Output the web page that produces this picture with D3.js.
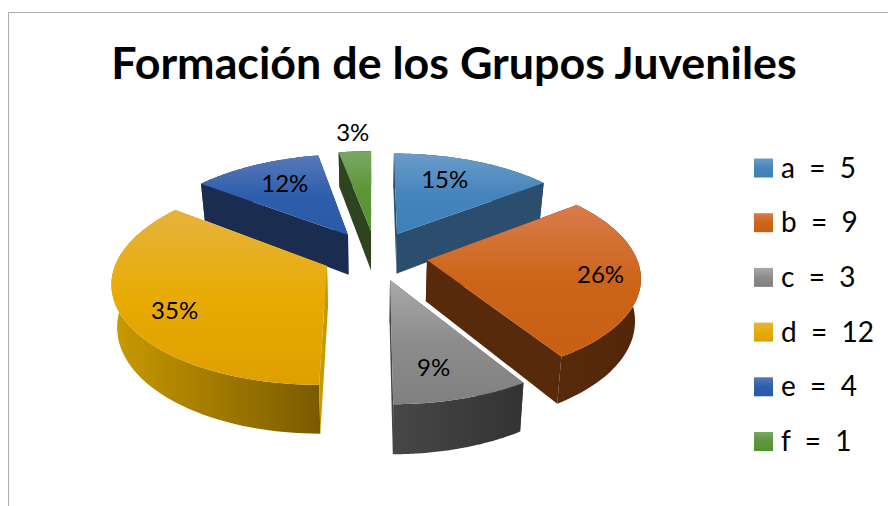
<!DOCTYPE html>
<html><head><meta charset="utf-8">
<script src="https://cdn.jsdelivr.net/npm/d3@7/dist/d3.min.js"></script>
<style>html,body{margin:0;padding:0;background:#fff}svg{display:block}text{font-family:Lato,"Open Sans",sans-serif;fill:#000;white-space:pre}</style>
</head><body><svg id="c" width="888" height="506"></svg>
<script>
const title = "Formación de los Grupos Juveniles";
const categories = ["a","b","c","d","e","f"];
const values = [5,9,3,12,4,1];
const legendLabels = ["a  =  5","b  =  9","c  =  3","d  =  12","e  =  4","f  =  1"];

// layout and style, kept apart from the data
const apexX = [397,427,390,327,348,371], apexY = [234,260,280,266,235,231];
const labelFrac = [.67,.82,.77,.83,.68,1.15];
const labelDx = [-6,-1,-10,17,2,0], labelDy = [-3,0,0,5,-2,-8];
const topLight = ["#6a9cc9","#d97c4c","#a9a9a9","#e6b33e","#5878b9","#7aa863"];
const topMid   = ["#4685bc","#cd6519","#8c8c8c","#e8ab03","#2f5eac","#5c9637"];
const topDark  = ["#3d7fb9","#c75f14","#808080","#dda000","#2a59a8","#55932f"];
const wallA = ["#2b4e6f","#582a0c","#474747","#c99a00","#1a2d50","#2e4420"];
const wallB = ["#1f4164","#512608","#333333","#7a5a00","#12264a","#263d14"];
const drawOrder = [0,4,5,1,3,2];
const cx=372, cy=256, R=209, k=.47, p=.0007, depth=41, lowShrink=.978;

const svg = d3.select("#c");
const defs = svg.append("defs");
function grad(id,stops,x2,y2){
  const g=defs.append("linearGradient").attr("id",id).attr("x1",0).attr("y1",0).attr("x2",x2).attr("y2",y2);
  stops.forEach((c,j)=>g.append("stop").attr("offset",j/(stops.length-1)).attr("stop-color",c));
}
categories.forEach((c,i)=>{grad("t"+i,[topLight[i],topMid[i],topDark[i]],0,1);grad("w"+i,[wallA[i],wallB[i]],1,0);});

svg.append("path").attr("d","M8.5 506V12.5H888").attr("fill","none").attr("stroke","#aaa").attr("stroke-width",1);

const scale=v=>1/(1+p*v);
const project=(u,v)=>{const s=scale(v);return [cx+u*s,cy-k*v*s,s];};
function unproject(x,y){const w=(cy-y)/k,v=w/(1-p*w);return [(x-cx)*(1+p*v),v];}

const arcs=d3.pie().sort(null).startAngle(0).endAngle(2*Math.PI)(values);
const total=d3.sum(values);
const line=d3.line();
const slices=arcs.map((a,i)=>{
  const [ou,ov]=unproject(apexX[i],apexY[i]);
  const at=(th,r)=>project(ou+r*Math.sin(th),ov+r*Math.cos(th));
  const rim=d3.range(0,61).map(j=>at(a.startAngle+(a.endAngle-a.startAngle)*j/60,R));
  return {i,a,at,rim,apex:at(0,0)};
});
const low=q=>[cx+(q[0]-cx)*lowShrink,q[1]+depth*q[2]];
const g=svg.append("g");
drawOrder.forEach(i=>{
  const s=slices[i],{rim,apex,a}=s;
  const first=rim[0],last=rim[rim.length-1];
  const wall=(pts,fill)=>g.append("path").attr("d",line(pts.map(q=>[q[0],q[1]]))+"Z").attr("fill",fill);
  const startWall=()=>wall([apex,first,low(first),low(apex)],wallA[i]);
  const endWall=()=>wall([apex,last,low(last),low(apex)],wallA[i]);
  const startFront=Math.sin(a.startAngle)<1e-6, endFront=Math.sin(a.endAngle)>1e-6;
  if(!startFront) startWall();
  if(!endFront) endWall();
  wall(rim.concat(rim.slice().reverse().map(low)),`url(#w${i})`);
  if(startFront) startWall();
  if(endFront) endWall();
  g.append("path").attr("d",line([apex,...rim].map(q=>[q[0],q[1]]))+"Z").attr("fill",`url(#t${i})`);
});
slices.forEach(s=>{
  const m=(s.a.startAngle+s.a.endAngle)/2,q=s.at(m,R*labelFrac[s.i]);
  svg.append("text").attr("x",q[0]+labelDx[s.i]).attr("y",q[1]+8+labelDy[s.i]).attr("text-anchor","middle").attr("font-size",24)
    .text(d3.format(".0%")(s.a.value/total));
});
svg.append("text").attr("x",454).attr("y",79).attr("text-anchor","middle").attr("font-size",44.8).attr("font-weight",700).text(title);

const ly=d3.scalePoint().domain(categories).range([168,441.5]);
categories.forEach((c,i)=>{
  svg.append("rect").attr("x",754).attr("y",ly(c)-9.5).attr("width",19).attr("height",19).attr("fill",`url(#t${i})`);
  svg.append("text").attr("x",781).attr("y",ly(c)+9.5).attr("font-size",28).text(legendLabels[i]);
});
</script></body></html>
